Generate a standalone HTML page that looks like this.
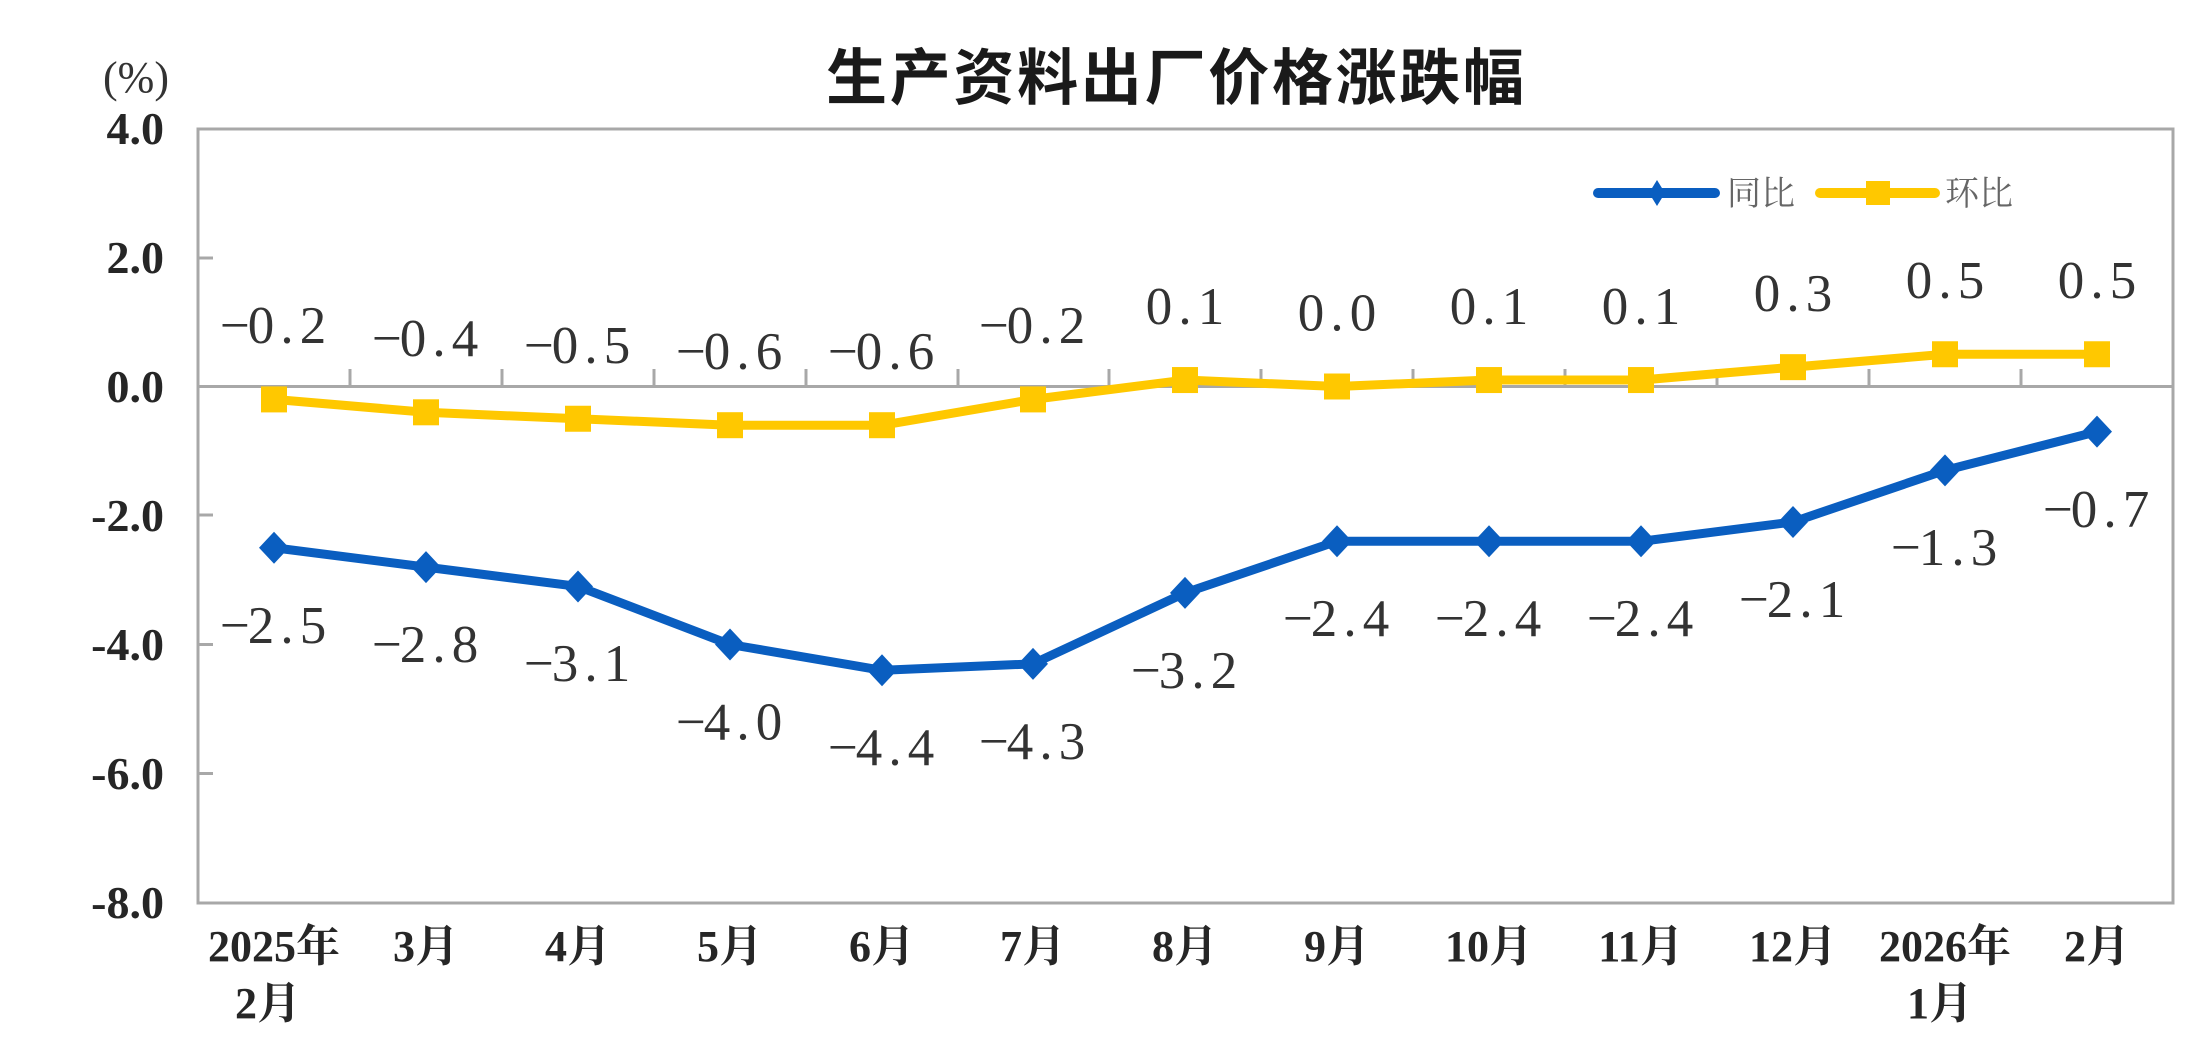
<!DOCTYPE html>
<html><head><meta charset="utf-8"><style>
html,body{margin:0;padding:0;background:#fff;}
svg{display:block;}
.ax{font-family:"Liberation Serif","Noto Serif CJK SC",serif;font-weight:bold;fill:#262626;}
.dl{font-family:"Liberation Serif","Noto Serif CJK SC",serif;font-size:53px;fill:#333;}
</style></head><body>
<svg width="2208" height="1060" viewBox="0 0 2208 1060" xmlns="http://www.w3.org/2000/svg">
<rect width="2208" height="1060" fill="#fff"/>
<!-- title -->
<text x="826" y="99" font-family="'Noto Sans CJK SC','WenQuanYi Zen Hei',sans-serif" font-weight="bold" font-size="61" fill="#1a1a1a" textLength="698" lengthAdjust="spacing">生产资料出厂价格涨跌幅</text>
<!-- unit -->
<text x="136" y="92" text-anchor="middle" font-family="'Liberation Serif',serif" font-size="44" fill="#333">(%)</text>
<!-- plot frame -->
<g stroke="#a8a8a8" stroke-width="3" fill="none">
<rect x="198" y="129" width="1975" height="774"/>
<line x1="198" y1="386.5" x2="2173" y2="386.5"/>
<line x1="198" y1="258" x2="213" y2="258"/>
<line x1="198" y1="515" x2="213" y2="515"/>
<line x1="198" y1="644.5" x2="213" y2="644.5"/>
<line x1="198" y1="773.5" x2="213" y2="773.5"/>
<path d="M350 386.5V369M502 386.5V369M654 386.5V369M806 386.5V369M958 386.5V369M1109 386.5V369M1261 386.5V369M1413 386.5V369M1565 386.5V369M1717 386.5V369M1869 386.5V369M2021 386.5V369"/>
</g>
<!-- y labels -->
<g class="ax" font-size="46" text-anchor="end">
<text x="164" y="144">4.0</text>
<text x="164" y="273">2.0</text>
<text x="164" y="402">0.0</text>
<text x="164" y="531">-2.0</text>
<text x="164" y="660">-4.0</text>
<text x="164" y="789">-6.0</text>
<text x="164" y="918">-8.0</text>
</g>
<!-- x labels -->
<g class="ax" font-size="44" text-anchor="middle">
<text x="274" y="961">2025年</text><text x="268" y="1018">2月</text>
<text x="426" y="961">3月</text>
<text x="578" y="961">4月</text>
<text x="730" y="961">5月</text>
<text x="882" y="961">6月</text>
<text x="1033" y="961">7月</text>
<text x="1185" y="961">8月</text>
<text x="1337" y="961">9月</text>
<text x="1489" y="961">10月</text>
<text x="1641" y="961">11月</text>
<text x="1793" y="961">12月</text>
<text x="1945" y="961">2026年</text><text x="1940" y="1018">1月</text>
<text x="2097" y="961">2月</text>
</g>
<!-- yellow series -->
<polyline fill="none" stroke="#FFC800" stroke-width="9" stroke-linejoin="round" points="274,399.4 426,412.3 578,418.75 730,425.2 882,425.2 1033,399.4 1185,380.05 1337,386.5 1489,380.05 1641,380.05 1793,367.15 1945,354.25 2097,354.25"/>
<g fill="#FFC800">
<rect x="261" y="386.4" width="26" height="26"/>
<rect x="413" y="399.3" width="26" height="26"/>
<rect x="565" y="405.75" width="26" height="26"/>
<rect x="717" y="412.2" width="26" height="26"/>
<rect x="869" y="412.2" width="26" height="26"/>
<rect x="1020" y="386.4" width="26" height="26"/>
<rect x="1172" y="367.05" width="26" height="26"/>
<rect x="1324" y="373.5" width="26" height="26"/>
<rect x="1476" y="367.05" width="26" height="26"/>
<rect x="1628" y="367.05" width="26" height="26"/>
<rect x="1780" y="354.15" width="26" height="26"/>
<rect x="1932" y="341.25" width="26" height="26"/>
<rect x="2084" y="341.25" width="26" height="26"/>
</g>
<!-- blue series -->
<polyline fill="none" stroke="#0A5EC0" stroke-width="9" stroke-linejoin="round" points="274,547.75 426,567.1 578,586.45 730,644.5 882,670.3 1033,663.85 1185,592.9 1337,541.3 1489,541.3 1641,541.3 1793,521.95 1945,470.35 2097,431.65"/>
<g fill="#0A5EC0">
<path d="M274 531.75l15 16l-15 16l-15 -16z"/>
<path d="M426 551.1l15 16l-15 16l-15 -16z"/>
<path d="M578 570.45l15 16l-15 16l-15 -16z"/>
<path d="M730 628.5l15 16l-15 16l-15 -16z"/>
<path d="M882 654.3l15 16l-15 16l-15 -16z"/>
<path d="M1033 647.85l15 16l-15 16l-15 -16z"/>
<path d="M1185 576.9l15 16l-15 16l-15 -16z"/>
<path d="M1337 525.3l15 16l-15 16l-15 -16z"/>
<path d="M1489 525.3l15 16l-15 16l-15 -16z"/>
<path d="M1641 525.3l15 16l-15 16l-15 -16z"/>
<path d="M1793 505.95l15 16l-15 16l-15 -16z"/>
<path d="M1945 454.35l15 16l-15 16l-15 -16z"/>
<path d="M2097 415.65l15 16l-15 16l-15 -16z"/>
</g>
<!-- yellow data labels -->
<g class="dl" text-anchor="middle">
<text x="235 261 287 313" y="343">−0.2</text>
<text x="387 413 439 465" y="356">−0.4</text>
<text x="539 565 591 617" y="363">−0.5</text>
<text x="691 717 743 769" y="369">−0.6</text>
<text x="843 869 895 921" y="369">−0.6</text>
<text x="994 1020 1046 1072" y="343">−0.2</text>
<text x="1159 1185 1211" y="324">0.1</text>
<text x="1311 1337 1363" y="330.5">0.0</text>
<text x="1463 1489 1515" y="324">0.1</text>
<text x="1615 1641 1667" y="324">0.1</text>
<text x="1767 1793 1819" y="311">0.3</text>
<text x="1919 1945 1971" y="298">0.5</text>
<text x="2071 2097 2123" y="298">0.5</text>
</g>
<!-- blue data labels -->
<g class="dl" text-anchor="middle">
<text x="235 261 287 313" y="643">−2.5</text>
<text x="387 413 439 465" y="662">−2.8</text>
<text x="539 565 591 617" y="681">−3.1</text>
<text x="691 717 743 769" y="739.5">−4.0</text>
<text x="843 869 895 921" y="765">−4.4</text>
<text x="994 1020 1046 1072" y="759">−4.3</text>
<text x="1146 1172 1198 1224" y="688">−3.2</text>
<text x="1298 1324 1350 1376" y="636">−2.4</text>
<text x="1450 1476 1502 1528" y="636">−2.4</text>
<text x="1602 1628 1654 1680" y="636">−2.4</text>
<text x="1754 1780 1806 1832" y="617">−2.1</text>
<text x="1906 1932 1958 1984" y="565">−1.3</text>
<text x="2058 2084 2110 2136" y="527">−0.7</text>
</g>
<!-- legend -->
<line x1="1598" y1="193" x2="1715" y2="193" stroke="#0A5EC0" stroke-width="10" stroke-linecap="round"/>
<path d="M1657 180l8 13l-8 13l-8 -13z" fill="#0A5EC0"/>
<text x="1727" y="205" font-family="'Noto Serif CJK SC','Noto Sans CJK SC',serif" font-size="34" fill="#666">同比</text>
<line x1="1820" y1="193" x2="1935" y2="193" stroke="#FFC800" stroke-width="10" stroke-linecap="round"/>
<rect x="1866" y="181" width="24" height="24" fill="#FFC800"/>
<text x="1945" y="205" font-family="'Noto Serif CJK SC','Noto Sans CJK SC',serif" font-size="34" fill="#666">环比</text>
</svg>
</body></html>
